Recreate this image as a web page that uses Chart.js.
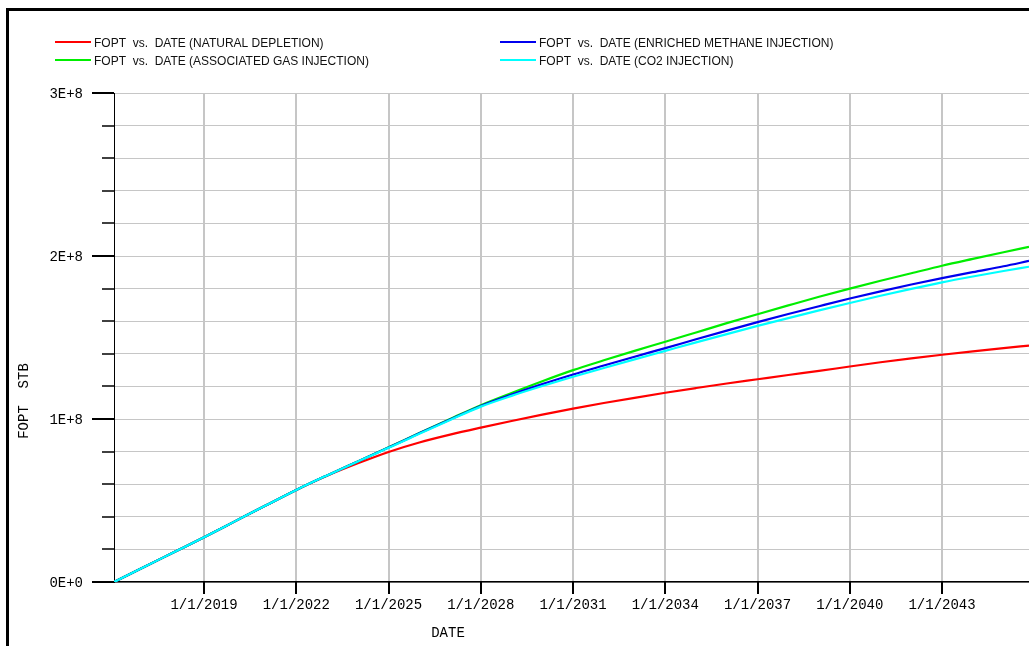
<!DOCTYPE html>
<html>
<head>
<meta charset="utf-8">
<title>FOPT vs. DATE</title>
<script src="https://cdn.jsdelivr.net/npm/chart.js@4.4.1/dist/chart.umd.min.js"></script>
<style>
  html, body { margin: 0; padding: 0; background: #fff; overflow: hidden; }
  #wrap { position: relative; width: 1029px; height: 646px; }
</style>
</head>
<body>
<div id="wrap"><canvas id="chart" width="1029" height="646"></canvas></div>
<script>
// Report dates shared by every case
const dates = [
  '2016-01-27', '2017-01-01', '2018-01-01', '2019-01-01', '2020-01-01', '2021-01-01',
  '2022-01-01', '2023-01-01', '2024-01-01', '2025-01-01', '2026-01-01', '2027-01-01',
  '2028-01-01', '2029-01-01', '2030-01-01', '2031-01-01', '2032-01-01', '2033-01-01',
  '2034-01-01', '2035-01-01', '2036-01-01', '2037-01-01', '2038-01-01', '2039-01-01',
  '2040-01-01', '2041-01-01', '2042-01-01', '2043-01-01', '2044-01-01', '2045-01-01',
  '2045-10-30'
];

// Field oil production total, million STB
const naturalDepletion = [
  0, 8.7, 18.1, 27.5, 37.2, 46.9, 56.5, 65.2, 72.8, 79.8, 85.6, 90.4,
  94.7, 98.8, 102.7, 106.4, 109.8, 113.0, 116.1, 119.0, 121.8, 124.4, 127.0, 129.5,
  132.2, 134.8, 137.2, 139.4, 141.5, 143.5, 145.0
];
const associatedGasInjection = [
  0, 8.7, 18.1, 27.5, 37.2, 46.9, 56.5, 65.4, 74.0, 82.6, 91.4, 100.0,
  108.5, 116.0, 123.2, 130.0, 136.0, 141.8, 147.4, 153.1, 158.8, 164.3, 169.7, 175.0,
  180.0, 184.8, 189.4, 194.0, 198.2, 202.3, 205.6
];
const enrichedMethaneInjection = [
  0, 8.7, 18.1, 27.5, 37.2, 46.9, 56.5, 65.4, 74.0, 82.5, 91.2, 99.7,
  108.0, 115.0, 121.4, 127.3, 132.8, 138.2, 143.5, 148.9, 154.2, 159.4, 164.4, 169.2,
  173.9, 178.3, 182.5, 186.4, 190.1, 193.7, 197.0
];
const co2Injection = [
  0, 8.7, 18.1, 27.5, 37.2, 46.9, 56.5, 65.4, 74.0, 82.3, 91.0, 99.4,
  107.6, 114.2, 120.2, 125.9, 131.3, 136.6, 141.8, 147.0, 152.1, 157.1, 161.9, 166.6,
  171.2, 175.6, 179.8, 183.8, 187.4, 190.8, 193.4
];

const seriesLabels = [
  'FOPT  vs.  DATE (NATURAL DEPLETION)',
  'FOPT  vs.  DATE (ASSOCIATED GAS INJECTION)',
  'FOPT  vs.  DATE (ENRICHED METHANE INJECTION)',
  'FOPT  vs.  DATE (CO2 INJECTION)'
];

// Axis ticks
const xTickYears = [2019, 2022, 2025, 2028, 2031, 2034, 2037, 2040, 2043];
const xTickLabels = ['1/1/2019', '1/1/2022', '1/1/2025', '1/1/2028', '1/1/2031',
                     '1/1/2034', '1/1/2037', '1/1/2040', '1/1/2043'];
const yMajorValues = [0, 1e8, 2e8, 3e8];
const yMajorLabels = ['0E+0', '1E+8', '2E+8', '3E+8'];
const xTitle = 'DATE';
const yTitle = 'FOPT  STB';

// Date string -> fractional calendar year
function toYear(s) {
  const d = new Date(s + 'T00:00:00Z');
  const y = d.getUTCFullYear();
  const a = Date.UTC(y, 0, 1), b = Date.UTC(y + 1, 0, 1);
  return y + (d.getTime() - a) / (b - a);
}
const xYears = dates.map(toYear);
const toPoints = arr => arr.map((v, i) => ({ x: xYears[i], y: v * 1e6 }));

const AXIS_FONT = { family: '"Liberation Mono", "DejaVu Sans Mono", monospace', size: 14 };
const LEGEND_FONT = '12px "Liberation Sans", Arial, sans-serif';

const colors = ['#ff0000', '#00ee00', '#0000ee', '#00ffff'];
const series = [naturalDepletion, associatedGasInjection, enrichedMethaneInjection, co2Injection];
const drawOrder = [3, 2, 1, 0];

const datasets = series.map((arr, i) => ({
  label: seriesLabels[i],
  data: toPoints(arr),
  borderColor: colors[i],
  backgroundColor: colors[i],
  borderWidth: 2.2,
  pointRadius: 0,
  fill: false,
  cubicInterpolationMode: 'monotone',
  order: drawOrder[i]
}));

// Frame, tick marks, axis titles and the two-column legend
const decorations = {
  id: 'decorations',
  beforeDraw(chart) {
    const ctx = chart.ctx;
    ctx.save();
    ctx.fillStyle = '#fff';
    ctx.fillRect(0, 0, chart.width, chart.height);
    ctx.fillStyle = '#000';
    ctx.fillRect(6, 8, 3, chart.height - 8);
    ctx.fillRect(6, 8, chart.width - 6, 3);
    ctx.restore();
  },
  afterDraw(chart) {
    const ctx = chart.ctx;
    const xs = chart.scales.x, ys = chart.scales.y;
    const area = chart.chartArea;
    ctx.save();
    ctx.strokeStyle = '#000';
    // y tick marks: long at labelled values, short elsewhere
    ys.ticks.forEach(t => {
      const py = Math.round(ys.getPixelForValue(t.value));
      const major = yMajorValues.some(v => Math.abs(v - t.value) < 1);
      const len = major ? 22 : 12;
      ctx.lineWidth = major ? 2 : 1.5;
      ctx.beginPath();
      ctx.moveTo(area.left - len, py);
      ctx.lineTo(area.left, py);
      ctx.stroke();
    });
    // x tick marks below the axis
    ctx.lineWidth = 2;
    xs.ticks.forEach(t => {
      const px = Math.round(xs.getPixelForValue(t.value));
      ctx.beginPath();
      ctx.moveTo(px, area.bottom);
      ctx.lineTo(px, area.bottom + 12);
      ctx.stroke();
    });
    // axis titles
    ctx.fillStyle = '#000';
    ctx.font = AXIS_FONT.size + 'px ' + AXIS_FONT.family;
    ctx.textAlign = 'center';
    ctx.textBaseline = 'middle';
    ctx.fillText(xTitle, 448, 633);
    ctx.save();
    ctx.translate(24, 401);
    ctx.rotate(-Math.PI / 2);
    ctx.fillText(yTitle, 0, 0);
    ctx.restore();
    // legend
    const slots = [[55, 42], [55, 60], [500, 42], [500, 60]];
    ctx.font = LEGEND_FONT;
    ctx.textAlign = 'left';
    chart.data.datasets.forEach((ds, i) => {
      const [lx, ly] = slots[i];
      ctx.strokeStyle = ds.borderColor;
      ctx.lineWidth = 2;
      ctx.beginPath();
      ctx.moveTo(lx, ly);
      ctx.lineTo(lx + 36, ly);
      ctx.stroke();
      ctx.fillStyle = '#111';
      ctx.fillText(ds.label, lx + 39, ly + 1.5);
    });
    ctx.restore();
  }
};

new Chart(document.getElementById('chart'), {
  type: 'line',
  data: { datasets },
  options: {
    responsive: false,
    animation: false,
    devicePixelRatio: 1,
    layout: { padding: { top: 93, left: 0, right: 0, bottom: 0 } },
    plugins: { legend: { display: false }, tooltip: { enabled: false } },
    scales: {
      x: {
        type: 'linear',
        min: xYears[0],
        max: xYears[xYears.length - 1],
        afterBuildTicks: s => { s.ticks = xTickYears.map(v => ({ value: v })); },
        afterFit: s => { s.height = 64; },
        ticks: {
          autoSkip: false,
          maxRotation: 0,
          padding: 15,
          color: '#000',
          font: AXIS_FONT,
          callback: (v, i) => xTickLabels[i]
        },
        grid: { color: '#c6c6c6', lineWidth: 2, drawTicks: false },
        border: { color: '#000', width: 1.5 }
      },
      y: {
        type: 'linear',
        min: 0,
        max: 3e8,
        afterFit: s => { s.width = 114; },
        ticks: {
          stepSize: 2e7,
          autoSkip: false,
          padding: 31,
          labelOffset: 1,
          color: '#000',
          font: AXIS_FONT,
          callback: v => {
            const k = yMajorValues.findIndex(m => Math.abs(m - v) < 1);
            return k >= 0 ? yMajorLabels[k] : '';
          }
        },
        grid: { color: '#c6c6c6', lineWidth: 1, drawTicks: false },
        border: { color: '#000', width: 1 }
      }
    }
  },
  plugins: [decorations]
});
</script>
</body>
</html>
